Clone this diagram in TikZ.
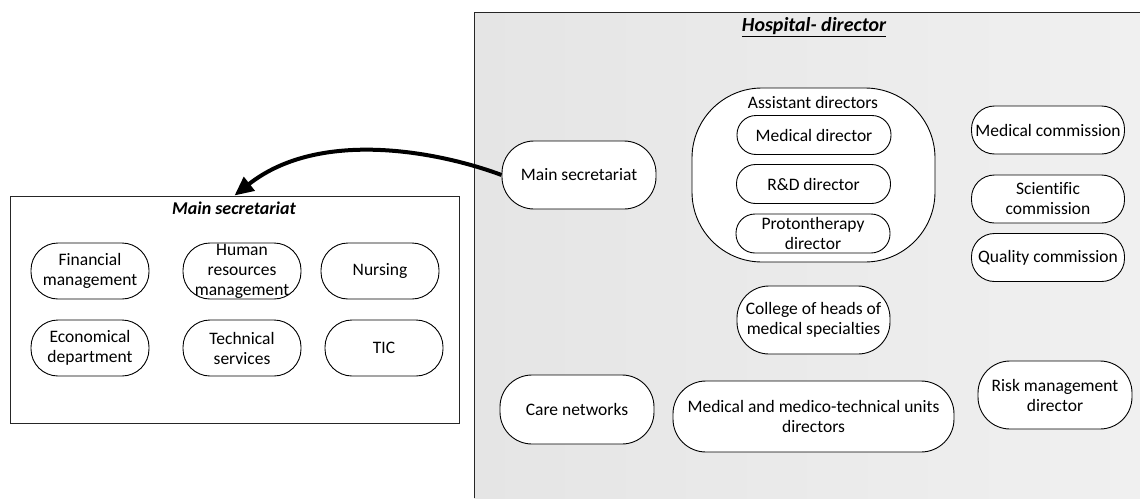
\documentclass[tikz,border=0pt]{standalone}
\usepackage{fontspec}
\setmainfont{Carlito}[Ligatures=NoCommon]
\usetikzlibrary{arrows.meta}
\definecolor{bgleft}{RGB}{229,229,229}
\definecolor{bgright}{RGB}{240,240,240}
\tikzset{
  pill/.style={draw=black, fill=white, line width=0.9pt, inner sep=0pt, align=center,
    font=\fontsize{17.5}{20}\selectfont, rounded corners=#1},
  pill/.default=27pt,
  boxtitle/.style={font=\fontsize{18}{20}\selectfont\bfseries\itshape, inner sep=0pt},
  bigarrow/.style={line width=4pt, -{Triangle[length=19pt,width=17pt]}},
}
\begin{document}
\begin{tikzpicture}[x=1pt,y=-1pt]
\useasboundingbox (0,0) rectangle (1140,498);
% hospital director background
\shade[left color=bgleft, right color=bgright] (474,12) rectangle (1140,498);
\draw[line width=1pt, draw=black!85] (1140,12) -- (474,12) -- (474,498);
\node[boxtitle, font=\fontsize{20}{22}\selectfont\bfseries\itshape] (hosptitle) at (814,27) {\underline{Hospital- director}};

% left box
\node[draw=black!85, line width=1pt, minimum width=449pt, minimum height=227pt, inner sep=0pt] (secbox) at (234.5,309.5) {};
\node[boxtitle] (sectitle) at (234,208) {Main secretariat};

\node[pill, minimum width=118pt, minimum height=56pt] (fin) at (90,271) {Financial\\management};
\node[pill, minimum width=118pt, minimum height=56pt] (hr) at (242,271) {Human\\resources\\management};
\node[pill, minimum width=118pt, minimum height=56pt] (nurs) at (380,271) {Nursing};
\node[pill, minimum width=118pt, minimum height=56pt] (eco) at (90,348) {Economical\\department};
\node[pill, minimum width=118pt, minimum height=56pt] (tech) at (242,348) {Technical\\services};
\node[pill, minimum width=118pt, minimum height=56pt] (tic) at (384,348) {TIC};

% right part
\node[pill=32pt, minimum width=154pt, minimum height=68pt] (ms) at (579,175) {Main secretariat};
\node[pill=70pt, minimum width=243pt, minimum height=174pt] (assist) at (813.5,175) {};
\node[font=\fontsize{17.5}{20}\selectfont, inner sep=0pt] (assisttitle) at (813,102) {Assistant directors};
\node[pill=19pt, minimum width=154pt, minimum height=39pt] (meddir) at (814,135) {Medical director};
\node[pill=19pt, minimum width=154pt, minimum height=39pt] (rd) at (813.5,184) {R\&D director};
\node[pill=19pt, minimum width=154pt, minimum height=39pt] (proto) at (813,233.5) {Protontherapy\\director};

\node[pill=23pt, minimum width=153pt, minimum height=48pt] (medcom) at (1048,130) {Medical commission};
\node[pill=23pt, minimum width=153pt, minimum height=48pt] (scicom) at (1048,199) {Scientific\\commission};
\node[pill=23pt, minimum width=153pt, minimum height=48pt] (qualcom) at (1048,257.5) {Quality commission};

\node[pill=32pt, minimum width=153pt, minimum height=68pt] (college) at (813.5,320) {College of heads of\\medical specialties};
\node[pill=32pt, minimum width=154pt, minimum height=69pt] (care) at (577,409.5) {Care networks};
\node[pill=33pt, minimum width=281pt, minimum height=71pt] (units) at (813.5,416.5) {Medical and medico-technical units\\directors};
\node[pill=32pt, minimum width=154pt, minimum height=68pt] (risk) at (1055,395) {Risk management\\director};

% arrow
\draw[bigarrow] (ms.west) .. controls (440,152) and (320,128) .. (secbox.north);
\end{tikzpicture}
\end{document}
